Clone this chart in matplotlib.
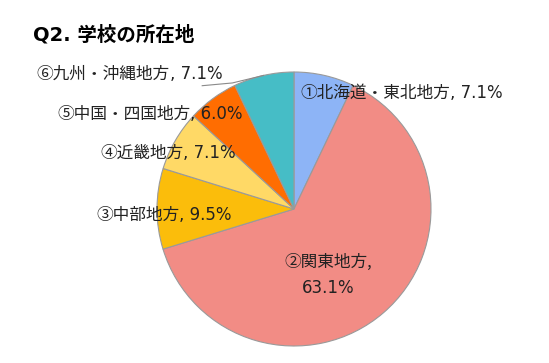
import matplotlib.pyplot as plt
import numpy as np

CJK = ['Noto Sans CJK JP', 'DejaVu Sans']
LATIN = ['DejaVu Sans', 'Noto Sans CJK JP']
plt.rcParams['font.family'] = LATIN

TITLE = 'Q2. 学校の所在地'
REGIONS = ['①北海道・東北地方', '②関東地方', '③中部地方', '④近畿地方', '⑤中国・四国地方', '⑥九州・沖縄地方']
SHARES = [7.1, 63.1, 9.5, 7.1, 6.0, 7.1]
COLORS = ['#8db4f6', '#f28c85', '#fbbd0b', '#ffd966', '#ff6d01', '#46bdc6']

# label baseline anchor (x, y) in pie units (radius = 1)
LABEL_POS = [(0.045, 0.81), (0.25, -0.42), (-1.445, -0.08), (-1.415, 0.37), (-1.73, 0.66), (-1.88, 0.95)]

FS = 12
TEXT_COLOR = '#222222'


def main():
    fig = plt.figure(figsize=(5.49, 3.63), dpi=100)
    ax = fig.add_axes([0, 0, 1, 1])

    # Pie centre at pixel (294, 209), radius 137 px
    cx, cy, r = 294, 209, 137

    wedges, _ = ax.pie(SHARES, colors=COLORS, startangle=90, counterclock=False,
                       radius=1, center=(0, 0), frame=True,
                       wedgeprops=dict(edgecolor='#9a9a9a', linewidth=0.8))
    ax.set_xlim(-cx / r, (549 - cx) / r)
    ax.set_ylim(-(363 - cy) / r, cy / r)
    ax.axis('off')

    renderer = fig.canvas.get_renderer()
    inv = ax.transData.inverted()

    for i, (name, share) in enumerate(zip(REGIONS, SHARES)):
        x, y = LABEL_POS[i]
        if i == 1:
            ax.text(x, y, name + ',', ha='center', va='baseline', fontsize=FS,
                    color=TEXT_COLOR, family=CJK)
            ax.text(x, y - 0.19, f'{share:.1f}%', ha='center', va='baseline',
                    fontsize=FS, color=TEXT_COLOR, family=LATIN)
        else:
            t = ax.text(x, y, name, ha='left', va='baseline', fontsize=FS,
                        color=TEXT_COLOR, family=CJK)
            bb = t.get_window_extent(renderer)
            x2 = inv.transform((bb.x1, 0))[0]
            ax.text(x2, y, f', {share:.1f}%', ha='left', va='baseline',
                    fontsize=FS, color=TEXT_COLOR, family=LATIN)

    # Leader line for the last slice
    w = wedges[5]
    mid = np.deg2rad((w.theta1 + w.theta2) / 2)
    ex, ey = np.cos(mid), np.sin(mid)
    ax.plot([-0.67, -0.45, ex], [0.90, 0.92, ey], color='#8a8a8a', linewidth=0.8)

    fig.text(33 / 549, 1 - 35 / 363, TITLE, ha='left', va='center',
             fontsize=14, fontweight='bold', color='black')

    fig.savefig('out.png', dpi=100)


if __name__ == '__main__':
    main()
